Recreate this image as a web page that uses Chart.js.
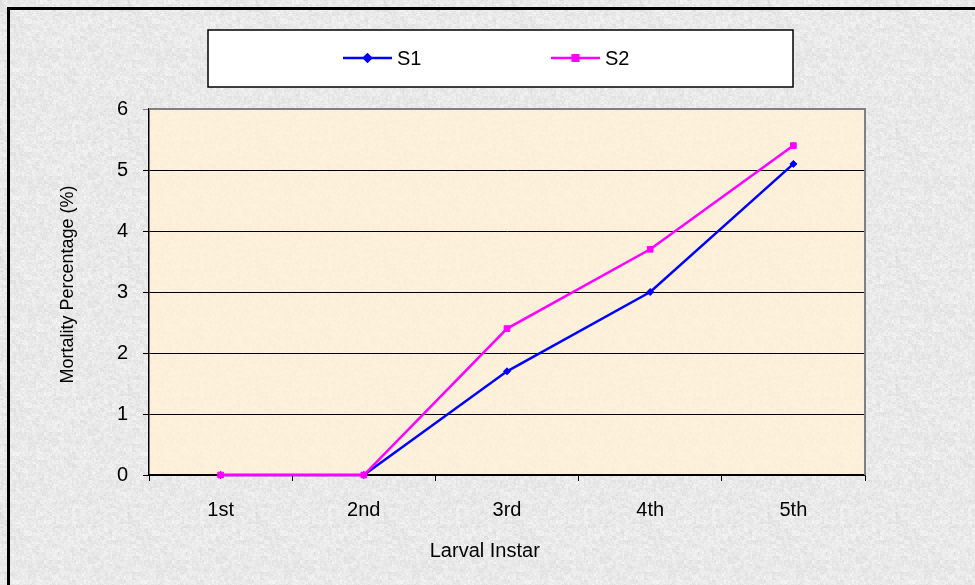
<!DOCTYPE html>
<html>
<head>
<meta charset="utf-8">
<script src="https://cdn.jsdelivr.net/npm/chart.js@4.4.0/dist/chart.umd.min.js"></script>
<style>
  html, body { margin: 0; padding: 0; background: #e6e6e6; }
  #wrap { position: absolute; left: 0; top: 0; width: 975px; height: 585px; }
</style>
</head>
<body>
<div id="wrap"><canvas id="chart"></canvas></div>
<script>
// Data
const instars = ['1st', '2nd', '3rd', '4th', '5th'];
const s1Values = [0, 0, 1.7, 3.0, 5.1];
const s2Values = [0, 0, 2.4, 3.7, 5.4];
const seriesNames = ['S1', 'S2'];
const yTicks = [0, 1, 2, 3, 4, 5, 6];

const FONT = 'Liberation Sans, Arial, sans-serif';
const FSIZE = 20;

// deterministic speckle texture (styling only)
function hash(x, y) {
    const h = Math.sin(x * 12.9898 + y * 78.233) * 43758.5453;
    return h - Math.floor(h);
}
function makeTexture(base, spread, size) {
    const c = document.createElement('canvas');
    c.width = size; c.height = size;
    const g = c.getContext('2d');
    const img = g.createImageData(size, size);
    for (let y = 0; y < size; y++) {
        for (let x = 0; x < size; x++) {
            const n = (hash(x, y) * 0.35 + hash(x >> 1, y >> 1) * 0.35 + hash(x >> 2, y >> 2) * 0.3) - 0.5;
            const i = (y * size + x) * 4;
            img.data[i] = Math.min(255, base[0] + n * spread);
            img.data[i + 1] = Math.min(255, base[1] + n * spread);
            img.data[i + 2] = Math.min(255, base[2] + n * spread);
            img.data[i + 3] = 255;
        }
    }
    g.putImageData(img, 0, 0);
    return c;
}

const backdrop = {
    id: 'backdrop',
    beforeDraw(chart) {
        const ctx = chart.ctx;
        const a = chart.chartArea;
        ctx.save();
        ctx.fillStyle = ctx.createPattern(makeTexture([233, 233, 233], 30, 128), 'repeat');
        ctx.fillRect(0, 0, chart.width, chart.height);
        // outer black frame
        ctx.fillStyle = '#000';
        ctx.fillRect(7, 7, chart.width, 3);
        ctx.fillRect(7, 7, 3, chart.height);
        // plot area fill
        ctx.fillStyle = ctx.createPattern(makeTexture([252, 240, 218], 8, 128), 'repeat');
        ctx.fillRect(a.left, a.top, a.right - a.left, a.bottom - a.top);
        ctx.restore();
    },
    beforeDatasetsDraw(chart) {
        const ctx = chart.ctx;
        const a = chart.chartArea;
        ctx.save();
        ctx.strokeStyle = '#808080';
        ctx.lineWidth = 2;
        ctx.beginPath();
        ctx.moveTo(a.left, a.top);
        ctx.lineTo(a.right, a.top);
        ctx.lineTo(a.right, a.bottom);
        ctx.stroke();
        ctx.restore();
    },
    afterDraw(chart) {
        // legend box
        const ctx = chart.ctx;
        ctx.save();
        ctx.fillStyle = '#fff';
        ctx.fillRect(208, 30, 585, 57);
        ctx.strokeStyle = '#000';
        ctx.lineWidth = 1.5;
        ctx.strokeRect(208, 30, 585, 57);
        chart.data.datasets.forEach((ds, i) => {
            const x0 = 343 + i * 208;
            const y = 58;
            ctx.strokeStyle = ds.borderColor;
            ctx.lineWidth = 2.5;
            ctx.beginPath();
            ctx.moveTo(x0, y);
            ctx.lineTo(x0 + 49, y);
            ctx.stroke();
            Chart.helpers.drawPoint(ctx, {
                pointStyle: ds.pointStyle, radius: ds.pointRadius, borderWidth: 1
            }, x0 + 24.5, y);
            ctx.fillStyle = ds.borderColor;
            ctx.fill();
            ctx.fillStyle = '#000';
            ctx.font = FSIZE + 'px ' + FONT;
            ctx.textBaseline = 'middle';
            ctx.textAlign = 'left';
            ctx.fillText(ds.label, x0 + 54, y + 1);
        });
        ctx.restore();
    }
};

new Chart(document.getElementById('chart'), {
    type: 'line',
    data: {
        labels: instars,
        datasets: [
            {
                label: seriesNames[0],
                data: s1Values,
                borderColor: '#0000ff',
                backgroundColor: '#0000ff',
                borderWidth: 2.5,
                pointStyle: 'rectRot',
                pointRadius: 3.5,
                pointBorderWidth: 1,
                tension: 0,
                clip: false,
                order: 1
            },
            {
                label: seriesNames[1],
                data: s2Values,
                borderColor: '#ff00ff',
                backgroundColor: '#ff00ff',
                borderWidth: 2.5,
                pointStyle: 'rect',
                pointRadius: 4,
                pointBorderWidth: 1,
                tension: 0,
                clip: false,
                order: 0
            }
        ]
    },
    options: {
        responsive: true,
        maintainAspectRatio: false,
        animation: false,
        layout: { padding: { left: 40, top: 109, right: 110, bottom: 0 } },
        plugins: {
            legend: { display: false },
            tooltip: { enabled: false }
        },
        scales: {
            x: {
                offset: true,
                grid: {
                    offset: true,
                    drawOnChartArea: false,
                    drawTicks: true,
                    tickLength: 6,
                    color: '#000',
                    lineWidth: 1
                },
                border: { color: '#000', width: 1.5 },
                ticks: {
                    color: '#000',
                    padding: 17,
                    font: { family: FONT, size: FSIZE }
                },
                title: {
                    display: true,
                    // trailing spaces shift the title left, as in the original
                    text: 'Larval Instar        ',
                    color: '#000',
                    font: { family: FONT, size: FSIZE },
                    padding: { top: 0, bottom: 22 }
                },
                afterFit(scale) { scale.height = 110; }
            },
            y: {
                min: 0,
                max: 6,
                afterBuildTicks(scale) { scale.ticks = yTicks.map(v => ({ value: v })); },
                grid: {
                    drawTicks: true,
                    tickLength: 6,
                    color: ctx => ctx.tick && ctx.tick.value === 6 ? '#808080' : '#000',
                    lineWidth: 1
                },
                border: { color: '#000', width: 1.5 },
                ticks: {
                    color: '#000',
                    padding: 15,
                    font: { family: FONT, size: FSIZE }
                },
                title: {
                    display: true,
                    text: '   Mortality Percentage (%)',
                    color: '#000',
                    font: { family: FONT, size: 18 },
                    padding: { top: 17, bottom: 0 }
                },
                afterFit(scale) { scale.width = 109; }
            }
        }
    },
    plugins: [backdrop]
});
</script>
</body>
</html>
